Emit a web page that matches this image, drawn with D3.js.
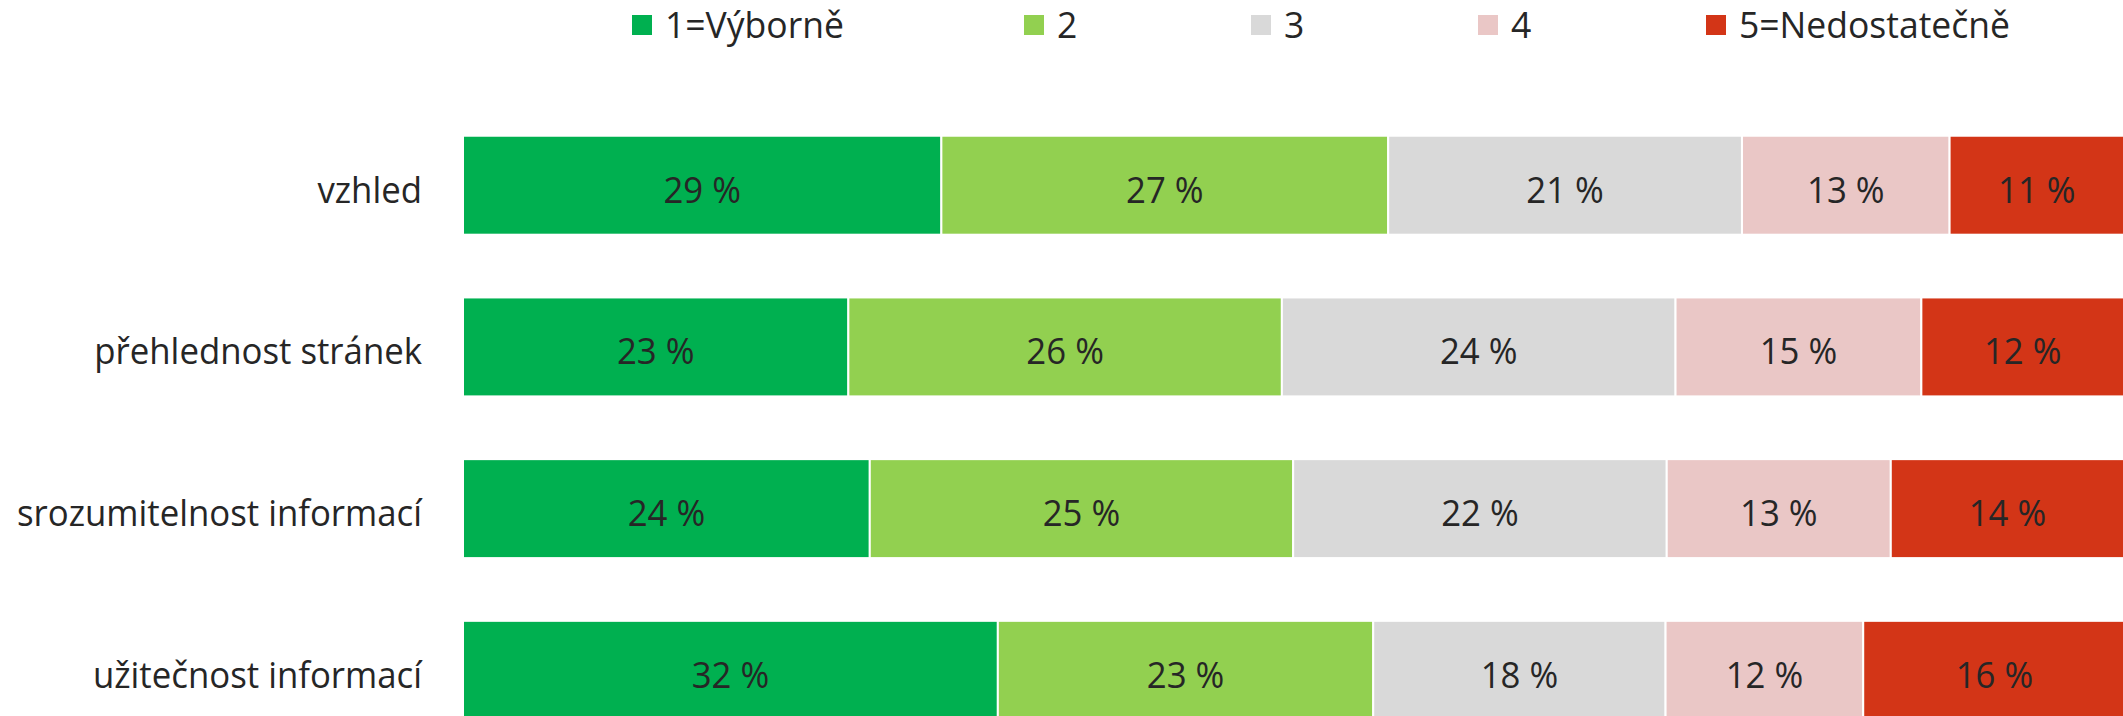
<!DOCTYPE html>
<html>
<head>
<meta charset="utf-8">
<script src="https://cdn.jsdelivr.net/npm/d3@7"></script>
<style>
  body { margin: 0; background: #fff; }
  text { font-family: "Open Sans", sans-serif; fill: #262626; }
</style>
</head>
<body>
<div id="chart"></div>
<script>
// Data
const categories = ["vzhled", "přehlednost stránek", "srozumitelnost informací", "užitečnost informací"];
const grades = ["1=Výborně", "2", "3", "4", "5=Nedostatečně"];
const grade1 = [28.8, 23.2, 24.49, 32.2];
const grade2 = [26.9, 26.1, 25.49, 22.6];
const grade3 = [21.3, 23.7, 22.49, 17.6];
const grade4 = [12.5, 14.8, 13.49, 11.9];
const grade5 = [10.5, 12.2, 14.04, 15.8];

const colors = ["#00b050", "#92d050", "#d9d9d9", "#eac7c6", "#d33517"];

const width = 2123, height = 716;
const margin = { top: 73, left: 463, right: -1 };

const rows = categories.map((c, i) => ({
  cat: c,
  g0: grade1[i], g1: grade2[i], g2: grade3[i], g3: grade4[i], g4: grade5[i]
}));
const keys = ["g0", "g1", "g2", "g3", "g4"];
const series = d3.stack().keys(keys)(rows);

const svg = d3.select("#chart")
  .append("svg")
  .attr("width", width)
  .attr("height", height);

// Scales
const x = d3.scaleLinear().domain([0, 100]).range([margin.left, width - margin.right]);
const y = d3.scaleBand().domain(categories)
  .range([margin.top, margin.top + 161.7 * 4.388])
  .paddingInner(0.388).paddingOuter(0.388);

// text is a bit narrower than Open Sans in the original
const fontSize = 37;
const squeeze = 0.94;

// Bars
const groups = svg.selectAll(".series")
  .data(series)
  .enter()
  .append("g")
  .attr("class", "series")
  .attr("fill", (d, i) => colors[i]);

groups.selectAll("rect")
  .data((d) => d)
  .enter()
  .append("rect")
  .attr("x", (d) => x(d[0]))
  .attr("y", (d) => y(d.data.cat))
  .attr("width", (d) => x(d[1]) - x(d[0]))
  .attr("height", y.bandwidth())
  .attr("stroke", "#fff")
  .attr("stroke-width", 2);

// Value labels
groups.selectAll("text")
  .data((d) => d)
  .enter()
  .append("text")
  .attr("transform", (d) =>
    `translate(${(x(d[0]) + x(d[1])) / 2}, ${y(d.data.cat) + y.bandwidth() / 2 + 4}) scale(${squeeze}, 1)`)
  .attr("dy", "0.36em")
  .attr("text-anchor", "middle")
  .style("font-size", fontSize + "px")
  .text((d) => Math.round(d[1] - d[0]) + " %");

// Category labels
svg.append("g")
  .selectAll("text")
  .data(categories)
  .enter()
  .append("text")
  .attr("transform", (d) =>
    `translate(${margin.left - 41}, ${y(d) + y.bandwidth() / 2 + 4}) scale(${squeeze}, 1)`)
  .attr("dy", "0.36em")
  .attr("text-anchor", "end")
  .style("font-size", fontSize + "px")
  .text((d) => d);

// Legend
const legendX = [632, 1024, 1251, 1478, 1706];
const legend = svg.selectAll(".legend")
  .data(grades)
  .enter()
  .append("g")
  .attr("class", "legend")
  .attr("transform", (d, i) => `translate(${legendX[i]}, 25)`);

legend.append("rect")
  .attr("x", 0)
  .attr("y", -10)
  .attr("width", 20)
  .attr("height", 20)
  .attr("fill", (d, i) => colors[i]);

legend.append("text")
  .attr("transform", "translate(33, 0) scale(0.96, 1)")
  .attr("dy", "0.36em")
  .style("font-size", fontSize + "px")
  .text((d) => d);
</script>
</body>
</html>
